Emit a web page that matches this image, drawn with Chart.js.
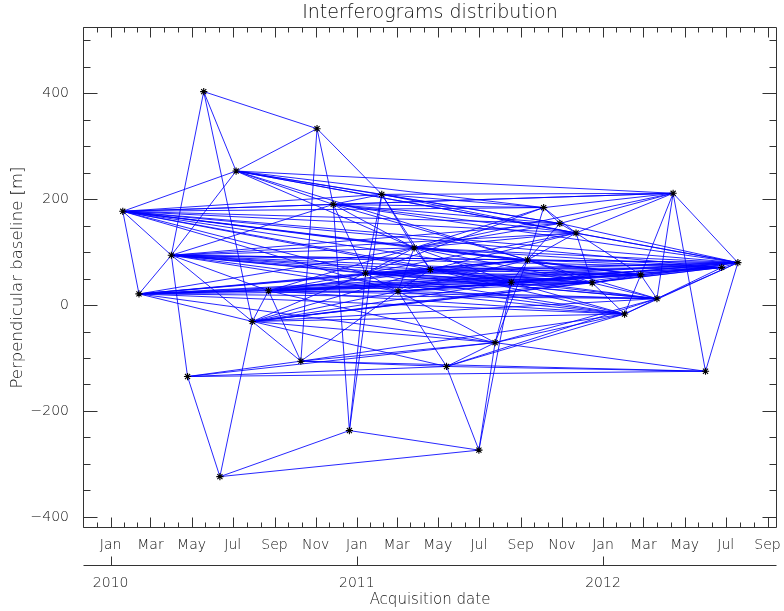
<!DOCTYPE html>
<html><head><meta charset="utf-8">
<script src="https://cdn.jsdelivr.net/npm/chart.js@4.4.1/dist/chart.umd.min.js"></script>
<style>html,body{margin:0;padding:0;background:#fff}#wrap{width:784px;height:611px}</style>
</head><body><div id="wrap"><canvas id="c" width="784" height="611"></canvas></div>
<script>
// ---- data ----
const ACQ_DATES = ['2010-01-19','2010-02-12','2010-04-01','2010-04-25','2010-05-19','2010-06-12','2010-07-06','2010-07-30','2010-08-23','2010-10-10','2010-11-03','2010-11-27','2010-12-21','2011-01-14','2011-02-07','2011-03-03','2011-03-27','2011-04-20','2011-05-14','2011-07-01','2011-07-25','2011-08-18','2011-09-11','2011-10-05','2011-10-29','2011-11-22','2011-12-16','2012-02-02','2012-02-26','2012-03-21','2012-04-14','2012-06-01','2012-06-25','2012-07-19'];
const PERP_BASELINES = [177,21,94,-135,403,-324,253,-31,27,-106,333,190,-237,60,209,26,108,67,-116,-274,-71,43,85,184,154,136,42,-17,57,12,211,-125,71,80];
const PAIRS = [
[0,1],[0,2],[0,6],[0,11],[0,13],[0,14],[0,15],[0,16],[0,17],[0,21],[0,22],[0,23],[0,24],[0,25],[0,26],[0,28],[0,30],[0,32],[0,33],
[1,2],[1,7],[1,8],[1,13],[1,15],[1,16],[1,17],[1,20],[1,21],[1,22],[1,26],[1,27],[1,28],[1,29],[1,32],[1,33],
[2,3],[2,4],[2,6],[2,7],[2,8],[2,11],[2,13],[2,15],[2,16],[2,17],[2,21],[2,22],[2,24],[2,25],[2,26],[2,27],[2,28],[2,29],[2,32],[2,33],
[3,5],[3,9],[3,18],[3,20],[3,31],
[4,6],[4,7],[4,10],
[5,7],[5,12],[5,19],
[6,10],[6,11],[6,14],[6,16],[6,22],[6,23],[6,24],[6,25],[6,30],[6,33],
[7,8],[7,9],[7,13],[7,15],[7,17],[7,18],[7,20],[7,21],[7,26],[7,27],[7,28],[7,29],[7,32],
[8,9],[8,13],[8,15],[8,16],[8,17],[8,20],[8,21],[8,22],[8,26],[8,27],[8,28],[8,29],[8,32],[8,33],
[9,10],[9,15],[9,18],[9,20],[9,27],[9,31],
[10,11],[10,14],
[11,12],[11,13],[11,14],[11,16],[11,22],[11,23],[11,24],[11,25],[11,30],[11,33],
[12,13],[12,14],[12,19],
[13,14],[13,15],[13,16],[13,17],[13,21],[13,22],[13,23],[13,25],[13,26],[13,27],[13,28],[13,29],[13,32],[13,33],
[14,16],[14,17],[14,23],[14,24],[14,25],[14,30],
[15,16],[15,17],[15,18],[15,20],[15,21],[15,22],[15,26],[15,27],[15,28],[15,29],[15,32],[15,33],
[16,17],[16,21],[16,22],[16,23],[16,24],[16,25],[16,26],[16,28],[16,30],[16,32],[16,33],
[17,21],[17,22],[17,25],[17,26],[17,27],[17,28],[17,29],[17,32],[17,33],
[18,19],[18,20],[18,27],[18,29],[18,31],
[19,20],[19,21],
[20,21],[20,22],[20,27],[20,29],[20,31],
[21,22],[21,26],[21,27],[21,28],[21,29],[21,32],[21,33],
[22,23],[22,24],[22,25],[22,26],[22,28],[22,29],[22,32],[22,33],
[23,24],[23,25],[23,30],
[24,25],[24,30],[24,33],
[25,26],[25,28],[25,30],[25,33],
[26,27],[26,28],[26,29],[26,32],[26,33],
[27,28],[27,29],[27,33],
[28,29],[28,30],[28,32],[28,33],
[29,30],[29,32],[29,33],
[30,31],[30,33],
[31,33],
[32,33]
];
const MONTH_TICK_DATES = ['2009-11-01','2010-01-01','2010-03-01','2010-05-01','2010-07-01','2010-09-01','2010-11-01','2011-01-01','2011-03-01','2011-05-01','2011-07-01','2011-09-01','2011-11-01','2012-01-01','2012-03-01','2012-05-01','2012-07-01','2012-09-01','2012-11-01'];
const MONTH_TICK_LABELS = ['Nov','Jan','Mar','May','Jul','Sep','Nov','Jan','Mar','May','Jul','Sep','Nov','Jan','Mar','May','Jul','Sep','Nov'];
const YEAR_TICK_DATES = ['2010-01-01','2011-01-01','2012-01-01'];
const YEAR_TICK_LABELS = ['2010','2011','2012'];
const BASELINE_TICKS = [-400,-200,0,200,400];
const X_RANGE_DATES = ['2009-11-21','2012-09-15'];
const Y_RANGE = [-421, 525];

// ---- helpers ----
const EPOCH = Date.UTC(2010,0,1);
function dayIndex(s){const p=s.split('-').map(Number);return (Date.UTC(p[0],p[1]-1,p[2])-EPOCH)/86400000;}
const X_MIN = dayIndex(X_RANGE_DATES[0]), X_MAX = dayIndex(X_RANGE_DATES[1]);
const MONTH_TICK_DAYS = MONTH_TICK_DATES.map(dayIndex);
const YEAR_TICK_DAYS = YEAR_TICK_DATES.map(dayIndex);
const FONT = 'DejaVu Sans';
const TEXT = '#111';
const AXIS = '#333';
const LIGHT = '300';

const nodes = ACQ_DATES.map((s,i)=>({x:dayIndex(s), y:PERP_BASELINES[i]}));

const datasets = [{
  label:'Acquisitions', data: nodes.map(p=>({x:p.x,y:p.y})), showLine:false,
  pointStyle:'star', pointRadius:3.6, pointHoverRadius:3.6, borderColor:'#000', backgroundColor:'#000', pointBorderWidth:1.1, order:0
}].concat(PAIRS.map(([a,b])=>({
  label:'pair', data:[{x:nodes[a].x,y:nodes[a].y},{x:nodes[b].x,y:nodes[b].y}], showLine:true,
  pointRadius:0, pointHoverRadius:0, borderColor:'rgba(0,0,255,0.85)', borderWidth:1, order:1
})));

function zeroPad(s){s.paddingLeft=0;s.paddingRight=0;s.paddingTop=0;s.paddingBottom=0;}

const axesFrame = {
  id:'axesFrame',
  afterDraw(chart){
    const {ctx, chartArea:a, scales} = chart;
    const x=scales.x, y=scales.y, x2=scales.x2;
    const L=Math.round(a.left)+0.5, R=Math.round(a.right)-0.5, T=Math.round(a.top)+0.5, B=Math.round(a.bottom)-0.5;
    ctx.save(); ctx.strokeStyle=AXIS; ctx.lineWidth=1; ctx.beginPath();
    ctx.rect(L,T,R-L,B-T);
    const seg=(ax,ay,bx,by)=>{ctx.moveTo(ax,ay);ctx.lineTo(bx,by);};
    const px=v=>Math.round(x.getPixelForValue(v))+0.5;
    for(let i=0;i<MONTH_TICK_DAYS.length;i++){
      const v=MONTH_TICK_DAYS[i];
      if(v>=X_MIN&&v<=X_MAX){const p=px(v);seg(p,B,p,B-10);seg(p,T,p,T+10);}
      if(i<MONTH_TICK_DAYS.length-1){
        for(let k=1;k<3;k++){const mv=v+(MONTH_TICK_DAYS[i+1]-v)*k/3;
          if(mv>=X_MIN&&mv<=X_MAX){const p=px(mv);seg(p,B,p,B-5);seg(p,T,p,T+5);}}
      }
    }
    for(let v=-400;v<=500;v+=50){
      const p=Math.round(y.getPixelForValue(v))+0.5; const len=(v%200===0)?14:7;
      seg(L,p,L+len,p); seg(R,p,R-len,p);
    }
    const yy=Math.round(x2.top)+0.5; seg(L,yy,R,yy);
    YEAR_TICK_DAYS.forEach(v=>{const p=Math.round(x2.getPixelForValue(v))+0.5;seg(p,yy,p,yy-9);});
    ctx.stroke(); ctx.restore();
  }
};

new Chart(document.getElementById('c'), {
  type:'scatter',
  data:{datasets},
  plugins:[axesFrame],
  options:{
    responsive:false, animation:false, events:[],
    layout:{padding:{left:0,right:7,top:0,bottom:0}},
    plugins:{
      legend:{display:false}, tooltip:{enabled:false},
      title:{display:true, text:'Interferograms distribution', fullSize:false, color:TEXT,
        font:{family:FONT,size:19,weight:LIGHT,lineHeight:'21px'}, padding:{top:3,bottom:3}}
    },
    scales:{
      x:{type:'linear', position:'bottom', min:X_MIN, max:X_MAX, weight:0,
        grid:{display:false,drawTicks:false}, border:{display:false},
        ticks:{autoSkip:false,maxRotation:0,minRotation:0,padding:9,color:TEXT,font:{family:FONT,size:14,weight:LIGHT},
          callback:(v)=>{const i=MONTH_TICK_DAYS.indexOf(v);return i>=0?MONTH_TICK_LABELS[i]:'';}},
        afterBuildTicks:s=>{s.ticks=MONTH_TICK_DAYS.filter(v=>v>=X_MIN&&v<=X_MAX).map(v=>({value:v}));},
        afterFit:s=>{s.height=37;zeroPad(s);}
      },
      x2:{type:'linear', position:'bottom', min:X_MIN, max:X_MAX, weight:1,
        grid:{display:false,drawTicks:false}, border:{display:false},
        ticks:{autoSkip:false,maxRotation:0,minRotation:0,padding:10,color:TEXT,font:{family:FONT,size:14,weight:LIGHT},
          callback:(v)=>{const i=YEAR_TICK_DAYS.indexOf(v);return i>=0?YEAR_TICK_LABELS[i]:'';}},
        afterBuildTicks:s=>{s.ticks=YEAR_TICK_DAYS.map(v=>({value:v}));},
        title:{display:true,text:'Acquisition date',color:TEXT,font:{family:FONT,size:15,weight:LIGHT,lineHeight:'18px'},padding:{top:0,bottom:2}},
        afterFit:s=>{s.height=46;zeroPad(s);}
      },
      y:{type:'linear', position:'left', min:Y_RANGE[0], max:Y_RANGE[1],
        grid:{display:false,drawTicks:false}, border:{display:false},
        ticks:{padding:14,color:TEXT,font:{family:FONT,size:14,weight:LIGHT},
          callback:(v)=>String(v).replace('-','\u2212')},
        afterBuildTicks:s=>{s.ticks=BASELINE_TICKS.map(v=>({value:v}));},
        title:{display:true,text:'Perpendicular baseline [m]',color:TEXT,font:{family:FONT,size:16.5,weight:LIGHT,lineHeight:'18px'},padding:{top:9,bottom:0}},
        afterFit:s=>{s.width=83;zeroPad(s);}
      }
    }
  }
});
</script></body></html>
